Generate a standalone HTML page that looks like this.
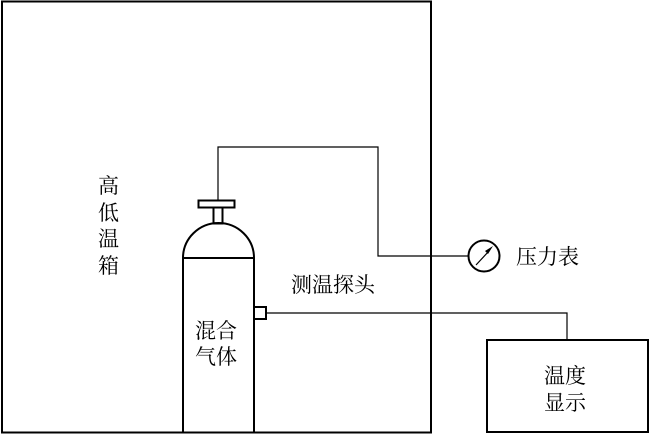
<!DOCTYPE html>
<html><head><meta charset="utf-8"><style>
html,body{margin:0;padding:0;background:#fff;}
svg text{font-family:"Liberation Serif","Noto Serif CJK SC","Noto Sans CJK SC",serif;font-size:21px;fill:#000;}
</style></head><body>
<svg width="650" height="435" viewBox="0 0 650 435" xmlns="http://www.w3.org/2000/svg">
<g fill="none" stroke="#000" stroke-width="2">
<rect x="2" y="1.5" width="429" height="431"/>
<path d="M183 433 V258 A35.5 35 0 0 1 254 258 V433"/>
<line x1="183" y1="258" x2="254" y2="258"/>
<rect x="198.5" y="200.5" width="36" height="7"/>
<rect x="213.5" y="207.5" width="9" height="16"/>
<rect x="254" y="307" width="12" height="12"/>
<rect x="487" y="340" width="161" height="92"/>
<circle cx="484" cy="256" r="15.5"/>
</g>
<g fill="none" stroke="#000" stroke-width="1.2">
<polyline points="218,200 218,147 378,147 378,256 468,256"/>
<polyline points="266,313 567,313 567,340"/>
<line x1="476" y1="265" x2="489" y2="251"/>
</g>
<polygon points="493,246 485,251 488,254" fill="#000"/>
<text x="98" y="193">高</text>
<text x="98" y="220">低</text>
<text x="98" y="246">温</text>
<text x="98" y="273">箱</text>
<text x="195" y="338">混合</text>
<text x="195" y="364">气体</text>
<text x="291" y="292">测温探头</text>
<text x="516" y="264">压力表</text>
<text x="544" y="383">温度</text>
<text x="544" y="410">显示</text>
</svg>
</body></html>
